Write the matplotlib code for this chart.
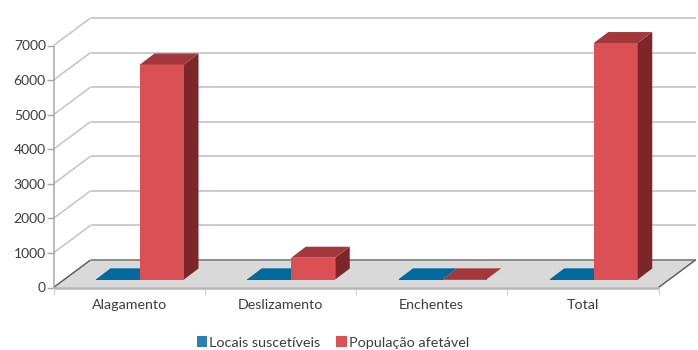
import matplotlib
matplotlib.use('Agg')
import matplotlib.pyplot as plt
from matplotlib.patches import Polygon, Patch

plt.rcParams['font.family'] = 'Lato'

categories = ['Alagamento', 'Deslizamento', 'Enchentes', 'Total']
locais = [5, 5, 5, 5]
populacao = [6220, 630, 5, 6840]
y_ticks = [0, 1000, 2000, 3000, 4000, 5000, 6000, 7000]

W, H = 698, 350
left, right, bottom, top = 53.5, 658.5, 287.5, 45.5
px_x = 4 / (right - left)      # category units per pixel
px_y = 7000 / (bottom - top)   # value units per pixel

fig = plt.figure(figsize=(W / 100, H / 100), dpi=100, facecolor='white')
ax = fig.add_axes([left / W, 1 - bottom / H, (right - left) / W, (bottom - top) / H])
ax.set_xlim(0, 4)
ax.set_ylim(0, 7000)
ax.patch.set_visible(False)
for s in ax.spines.values():
    s.set_visible(False)

# depth of the 3D box
dx = 37 * px_x
dy = 27.5 * px_y


def poly(points, color, z, ec='none', lw=0):
    ax.add_patch(Polygon(points, closed=True, fc=color, ec=ec, lw=lw, zorder=z, clip_on=False))


def line(xs, ys, color, lw, z):
    ax.plot(xs, ys, color=color, lw=lw, zorder=z, clip_on=False, solid_capstyle='butt')


# floor
poly([(0, 0), (4, 0), (4 + dx, dy), (dx, dy)], '#d9d9d9', 2)

# walls
for v in y_ticks:
    if v > 0:
        line([dx, 4 + dx], [v + dy, v + dy], '#cbcbcb', 1.4, 1)
        line([0, dx], [v, v + dy], '#c4c4c4', 1.1, 1)
line([dx, 4 + dx], [dy, dy], '#8a8a8a', 1.4, 3)
line([0, dx], [0, dy], '#555555', 1.0, 3)
line([4, 4 + dx], [0, dy], '#555555', 1.0, 3)
line([0, 4], [0, 0], '#b4b4b4', 1.8, 3)
line([0, 0], [0, 7000], '#a8a8a8', 1.1, 3)


def bar3d(x0, value, front, side, cap, z):
    w = 44 * px_x
    bx, by = 14.5 * px_x, 11 * px_y
    base = 8 * px_y
    t = base + value
    poly([(x0, base), (x0 + w, base), (x0 + w, t), (x0, t)], front, z)
    poly([(x0 + w, base), (x0 + w + bx, base + by), (x0 + w + bx, t + by), (x0 + w, t)], side, z)
    poly([(x0, t), (x0 + w, t), (x0 + w + bx, t + by), (x0 + bx, t + by)], cap, z)


for i in range(len(categories)):
    start = i + 42.5 * px_x
    bar3d(start, locais[i], '#006a9e', '#00537c', '#006a9e', 4 + i)
    bar3d(start + 44 * px_x, populacao[i], '#db5055', '#7d2629', '#a3383c', 4.5 + i)

# axes ticks and labels
ax.set_yticks(y_ticks)
ax.set_xticks([0, 1, 2, 3, 4])
ax.set_xticklabels([])
ax.set_xticks([i + 0.5 for i in range(len(categories))], labels=categories, minor=True)
ax.tick_params(axis='y', length=5, width=1, color='#a8a8a8', labelsize=10, labelcolor='#3c3c3c', pad=0.5)
ax.tick_params(axis='x', which='major', length=5, width=0.8, color='#d0d0d0')
ax.tick_params(axis='x', which='minor', length=0, labelsize=10.3, labelcolor='#3c3c3c', pad=8.5)

handles = [Patch(fc='#2a7fb8', label='Locais suscetíveis'), Patch(fc='#db5055', label='População afetável')]
fig.legend(handles=handles, loc='center', bbox_to_anchor=(333 / W, 1 - 342.5 / H), ncol=2, frameon=False,
           fontsize=10.4, labelcolor='#3c3c3c', handlelength=0.72, handleheight=0.72,
           handletextpad=0.15, columnspacing=1.1)

fig.savefig('out.png', dpi=100)
